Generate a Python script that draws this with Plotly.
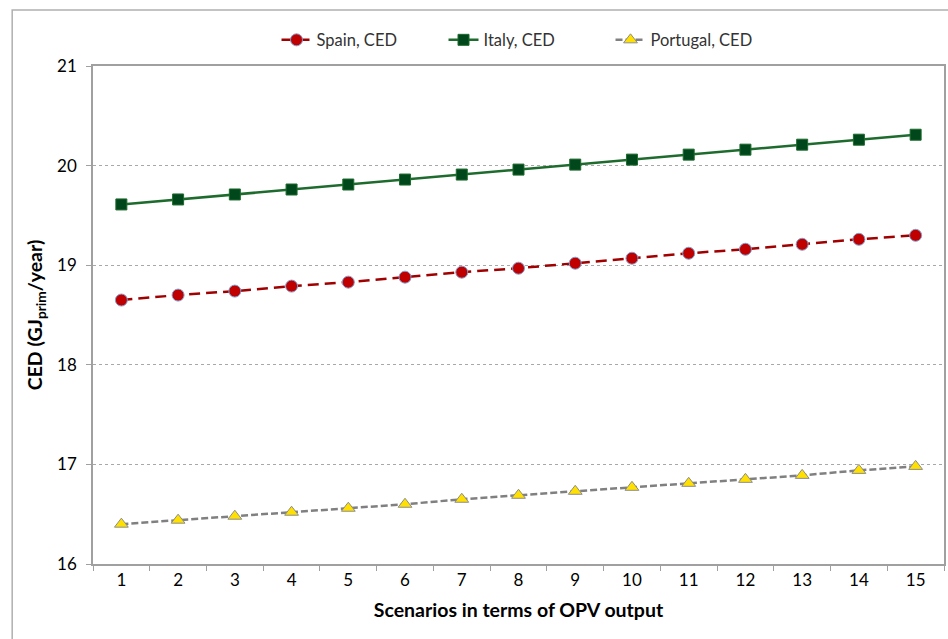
import plotly.graph_objects as go

scenarios = [str(i) for i in range(1, 16)]
spain_ced = [18.65, 18.70, 18.74, 18.79, 18.83, 18.88, 18.93, 18.97, 19.02, 19.07, 19.12, 19.16, 19.21, 19.26, 19.30]
italy_ced = [19.61, 19.66, 19.71, 19.76, 19.81, 19.86, 19.91, 19.96, 20.01, 20.06, 20.11, 20.16, 20.21, 20.26, 20.31]
portugal_ced = [16.40, 16.44, 16.48, 16.52, 16.56, 16.60, 16.65, 16.69, 16.73, 16.77, 16.81, 16.85, 16.89, 16.94, 16.98]
y_ticks = [16, 17, 18, 19, 20, 21]

FONT = "Lato, Carlito, Calibri, sans-serif"

fig = go.Figure()
fig.add_trace(go.Scatter(
    x=scenarios, y=spain_ced, name="Spain, CED", mode="lines+markers",
    line=dict(color="#a00000", width=2.5, dash="11px,6px"),
    marker=dict(symbol="circle", size=12, color="#c00000", line=dict(color="#7fa0d0", width=1)),
))
fig.add_trace(go.Scatter(
    x=scenarios, y=italy_ced, name="Italy, CED", mode="lines+markers",
    line=dict(color="#1e6b2e", width=2.5),
    marker=dict(symbol="square", size=11, color="#00471b", line=dict(color="#1e6b2e", width=1)),
))
fig.add_trace(go.Scatter(
    x=scenarios, y=portugal_ced, name="Portugal, CED", mode="lines+markers",
    line=dict(color="#808080", width=2.5, dash="7px,3px"),
    marker=dict(symbol="triangle-up", size=12, color="#ffe000", line=dict(color="#8c8c8c", width=1)),
))

fig.update_layout(
    width=948, height=639,
    margin=dict(l=93, r=2, t=66, b=75),
    paper_bgcolor="white", plot_bgcolor="white",
    font=dict(family=FONT, size=17, color="#000000"),
    legend=dict(orientation="h", x=0.51, xanchor="center", y=1.052, yanchor="middle",
                font=dict(size=16.5, family=FONT, color="#333333"), itemwidth=30,
                entrywidth=122, entrywidthmode="pixels",
                bgcolor="rgba(0,0,0,0)"),
    shapes=[dict(type="rect", xref="paper", yref="paper",
                 x0=(12 - 93) / 853, x1=(960 - 93) / 853,
                 y0=(564 - 660) / 498, y1=(564 - 10) / 498,
                 line=dict(color="#b0b0b0", width=1.5), fillcolor="rgba(0,0,0,0)", layer="below")],
)
fig.update_xaxes(
    type="category", range=[-0.5, 14.5], tickson="boundaries", ticks="outside", ticklen=5,
    tickcolor="#a0a0a0",
    showline=True, linecolor="#a0a0a0", linewidth=1.5, mirror=True,
    showgrid=False,
    title=dict(text="<b>Scenarios in terms of OPV output</b>", font=dict(size=19.5, family=FONT), standoff=14),
    tickfont=dict(size=17, family=FONT),
)
fig.update_yaxes(
    range=[16, 21], tickvals=y_ticks, ticks="outside", ticklen=5, tickcolor="#a0a0a0",
    showline=True, linecolor="#a0a0a0", linewidth=1.5, mirror=True,
    showgrid=True, gridcolor="#a8a8a8", griddash="dot", gridwidth=1,
    zeroline=False, ticklabelstandoff=6,
    title=dict(text="<b>CED (GJ<sub>prim</sub>/year)</b>", font=dict(size=19.5, family=FONT), standoff=9),
    tickfont=dict(size=17, family=FONT),
)

fig.write_html("out.html", config={"displayModeBar": False},
               post_script="document.body.style.margin='0';")
